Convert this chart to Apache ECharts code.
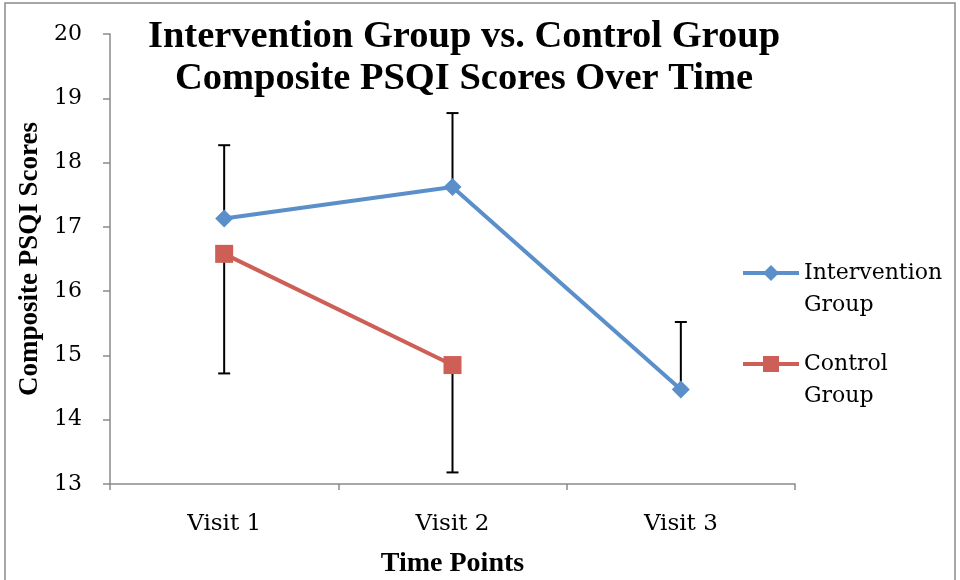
<!DOCTYPE html>
<html>
<head>
<meta charset="utf-8">
<script src="https://cdn.jsdelivr.net/npm/echarts@6/dist/echarts.min.js"></script>
<style>html,body{margin:0;padding:0;background:#fff}#c{width:960px;height:580px}</style>
</head>
<body>
<div id="c"></div>
<script>
var categories = ['Visit 1', 'Visit 2', 'Visit 3'];
var interventionValues = [17.13, 17.62, 14.47];
var interventionUpper = [18.27, 18.77, 15.52];
var controlValues = [16.58, 14.85, null];
var controlLower = [14.72, 13.18, null];
var yTicks = [13, 14, 15, 16, 17, 18, 19, 20];

var serifR = '"DejaVu Serif", serif';
var serifB = '"Liberation Serif", serif';
var blue = '#5A8FCA', red = '#CD5F57';

function errData(vals, ends) {
  var out = [];
  for (var i = 0; i < vals.length; i++) {
    if (vals[i] != null && ends[i] != null) out.push([i, vals[i], ends[i]]);
  }
  return out;
}
function errRender(params, api) {
  var x = api.coord([api.value(0), api.value(1)]);
  var e = api.coord([api.value(0), api.value(2)]);
  var hw = 6;
  var st = {stroke: '#000', lineWidth: 2};
  return {type: 'group', children: [
    {type: 'line', shape: {x1: x[0], y1: x[1], x2: e[0], y2: e[1]}, style: st},
    {type: 'line', shape: {x1: e[0] - hw, y1: e[1], x2: e[0] + hw, y2: e[1]}, style: st}
  ]};
}

var chart = echarts.init(document.getElementById('c'));
chart.setOption({
  animation: false,
  title: {
    text: 'Intervention Group vs. Control Group\nComposite PSQI Scores Over Time',
    left: 459, top: 11, textAlign: 'center',
    textStyle: {fontFamily: serifB, fontWeight: 'bold', fontSize: 38.5, lineHeight: 42, color: '#000'}
  },
  graphic: [{type: 'rect', shape: {x: 5, y: 3, width: 950, height: 590}, style: {fill: 'none', stroke: '#8a8a8a', lineWidth: 1.5}, silent: true}],
  legend: {
    orient: 'vertical', left: 741, top: 225, padding: 0, itemWidth: 56, itemHeight: 20, itemGap: -5,
    formatter: function (n) { return '\n' + n.replace(' ', '\n'); },
    lineStyle: {width: 4},
    textStyle: {fontFamily: serifR, fontSize: 22, lineHeight: 32, color: '#000'},
    data: ['Intervention Group', 'Control Group']
  },
  grid: {left: 110, right: 165, top: 34, bottom: 96, containLabel: false, outerBoundsMode: 'none'},
  xAxis: {
    type: 'category', data: categories, boundaryGap: true,
    name: 'Time Points', nameLocation: 'middle', nameGap: 66,
    nameTextStyle: {fontFamily: serifB, fontWeight: 'bold', fontSize: 28, color: '#000'},
    axisLine: {lineStyle: {color: '#8a8a8a', width: 1.5}},
    axisTick: {show: true, length: 6, lineStyle: {color: '#8a8a8a', width: 1.5}},
    axisLabel: {fontFamily: serifR, fontSize: 23, color: '#000', margin: 29}
  },
  yAxis: {
    type: 'value', min: 13, max: 20, interval: 1,
    name: 'Composite PSQI Scores', nameLocation: 'middle', nameGap: 63, nameRotate: 90,
    nameTextStyle: {fontFamily: serifB, fontWeight: 'bold', fontSize: 27, color: '#000'},
    axisLine: {show: true, lineStyle: {color: '#8a8a8a', width: 1.5}},
    axisTick: {show: true, length: 7, lineStyle: {color: '#8a8a8a', width: 1.5}},
    splitLine: {show: false},
    axisLabel: {fontFamily: serifR, fontSize: 22, color: '#000', margin: 28,
      formatter: function (v) { return yTicks.indexOf(v) >= 0 ? String(v) : ''; }}
  },
  series: [
    {name: 'Intervention Group', type: 'line', data: interventionValues, symbol: 'diamond', symbolSize: 18,
     lineStyle: {color: blue, width: 4}, itemStyle: {color: blue}, z: 3},
    {name: 'Control Group', type: 'line', data: controlValues, symbol: 'rect', symbolSize: 18,
     lineStyle: {color: red, width: 4}, itemStyle: {color: red}, z: 3},
    {type: 'custom', renderItem: errRender, data: errData(interventionValues, interventionUpper), z: 2, silent: true},
    {type: 'custom', renderItem: errRender, data: errData(controlValues, controlLower), z: 2, silent: true}
  ]
});
</script>
</body>
</html>
